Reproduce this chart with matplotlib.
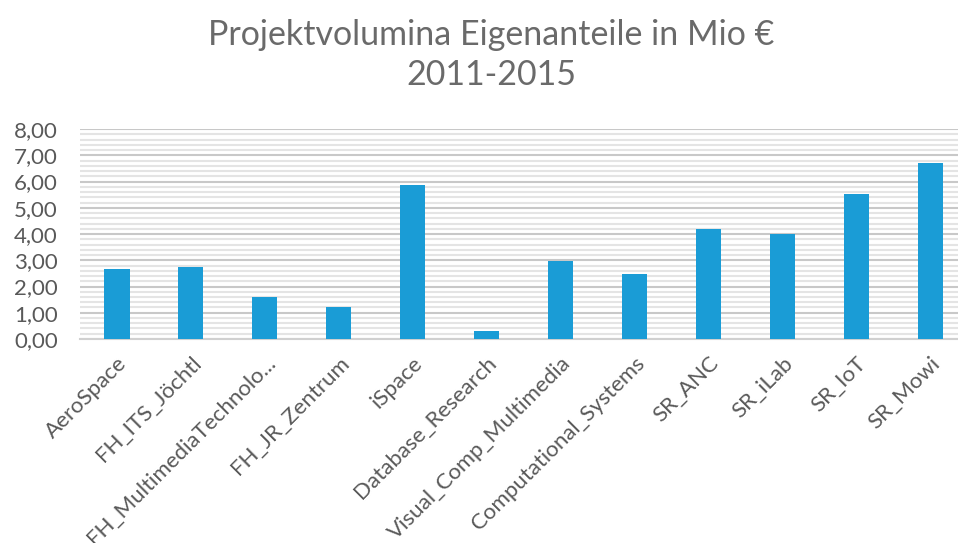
import numpy as np
import matplotlib.pyplot as plt
from matplotlib.ticker import MultipleLocator, FuncFormatter

plt.rcParams['font.family'] = ['Lato', 'DejaVu Sans']

categories = ["AeroSpace", "FH_ITS_Jöchtl", "FH_MultimediaTechnolo...", "FH_JR_Zentrum",
              "iSpace", "Database_Research", "Visual_Comp_Multimedia",
              "Computational_Systems", "SR_ANC", "SR_iLab", "SR_IoT", "SR_Mowi"]
values = [2.68, 2.74, 1.60, 1.22, 5.87, 0.30, 2.97, 2.48, 4.19, 4.00, 5.51, 6.69]

fig = plt.figure(figsize=(9.58, 5.43), dpi=100)
ax = fig.add_axes([0.0835, 0.3757, 0.926, 0.3867])

x = np.arange(len(categories))
ax.bar(x, values, width=0.34, color="#1a9cd6", zorder=3)

ax.set_xlim(-0.5, len(categories) - 0.5)
ax.set_ylim(0, 8)
ax.yaxis.set_major_locator(MultipleLocator(1))
ax.yaxis.set_minor_locator(MultipleLocator(0.2))
ax.yaxis.set_major_formatter(FuncFormatter(lambda v, p: f"{v:.2f}".replace(".", ",")))
ax.grid(axis="y", which="major", color="#c8c8c8", linewidth=1.5, zorder=0)
ax.grid(axis="y", which="minor", color="#e4e4e4", linewidth=1.5, zorder=0)

for s in ["top", "right", "left"]:
    ax.spines[s].set_visible(False)
ax.spines["bottom"].set_color("#d0d0d0")
ax.spines["bottom"].set_linewidth(1.5)

ax.tick_params(axis="both", which="both", length=0, colors="#595959", labelsize=16)
ax.tick_params(axis="y", pad=16)
ax.tick_params(axis="x", pad=10)
ax.set_xticks(x)
ax.set_xticklabels(categories, rotation=45, ha="right", rotation_mode="anchor")

# title sits a bit right of the figure centre in the original
fig.text(0.513, 0.965, "Projektvolumina Eigenanteile in Mio €\n2011-2015", ha="center", va="top",
         fontsize=24.5, color="#6a6a6a", linespacing=1.3)

fig.savefig("out.png", dpi=100)
